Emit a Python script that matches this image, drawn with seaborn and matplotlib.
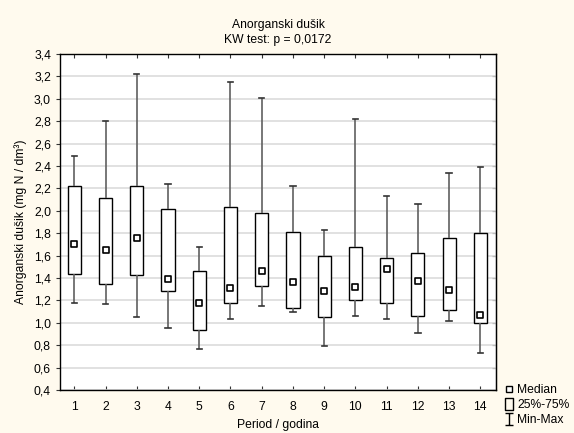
import numpy as np
import pandas as pd
import matplotlib
matplotlib.use("Agg")
import matplotlib.pyplot as plt
import seaborn as sns
from matplotlib.lines import Line2D
from matplotlib.path import Path
from matplotlib.ticker import FuncFormatter, MultipleLocator

# Per-period summary values (mg N / dm3)
periods = [str(i) for i in range(1, 15)]
mins = [1.18, 1.17, 1.05, 0.95, 0.77, 1.03, 1.15, 1.10, 0.79, 1.06, 1.03, 0.91, 1.02, 0.73]
q1s = [1.44, 1.35, 1.43, 1.28, 0.94, 1.18, 1.33, 1.13, 1.05, 1.20, 1.18, 1.06, 1.11, 1.00]
medians = [1.70, 1.65, 1.76, 1.39, 1.18, 1.31, 1.46, 1.36, 1.28, 1.32, 1.48, 1.37, 1.29, 1.07]
q3s = [2.22, 2.11, 2.22, 2.02, 1.46, 2.03, 1.98, 1.81, 1.60, 1.68, 1.58, 1.62, 1.76, 1.80]
maxs = [2.49, 2.80, 3.22, 2.24, 1.68, 3.15, 3.01, 2.22, 1.83, 2.82, 2.13, 2.06, 2.34, 2.39]

title = "Anorganski dušik\nKW test: p = 0,0172"
xlabel = "Period / godina"
ylabel = "Anorganski dušik (mg N / dm³)"

# five points per period -> quartiles land exactly on the read values
long = pd.DataFrame({
    "period": np.repeat(periods, 5),
    "value": np.column_stack([mins, q1s, medians, q3s, maxs]).ravel(),
})
med_df = pd.DataFrame({"period": periods, "value": medians})

plt.rcParams["font.family"] = ["Liberation Sans", "DejaVu Sans"]
fs = 8.7

bg = "#fffaee"
fig = plt.figure(figsize=(5.74, 4.33), dpi=100, facecolor=bg)
ax = fig.add_axes([0.1045, 0.0993, 0.7595, 0.776])
ax.set_facecolor("white")

ax.yaxis.grid(True, color="#dcdcdc", lw=1.2, zorder=0)
ax.set_axisbelow(True)

sns.boxplot(data=long, x="period", y="value", order=periods, whis=(0, 100),
            width=0.42, color="white", linecolor="black", linewidth=1.0,
            showfliers=False,
            medianprops=dict(visible=False),
            whiskerprops=dict(color="#606060", lw=1.2),
            capprops=dict(color="#333333", lw=1.2),
            ax=ax)

# shorten caps to match the narrow min-max ticks
for line in ax.lines:
    xd = np.asarray(line.get_xdata(), dtype=float)
    yd = np.asarray(line.get_ydata(), dtype=float)
    if len(xd) == 2 and yd[0] == yd[1] and line.get_color() == "#333333":
        c = xd.mean()
        line.set_xdata([c - 0.085, c + 0.085])

sns.stripplot(data=med_df, x="period", y="value", order=periods, jitter=False,
              marker="s", size=5, color="white", edgecolor="black",
              linewidth=1.2, zorder=5, ax=ax)

ax.set_xlim(-0.46, 13.5)
ax.set_ylim(0.4, 3.4)
ax.yaxis.set_major_locator(MultipleLocator(0.2))
ax.yaxis.set_major_formatter(FuncFormatter(lambda v, p: f"{v:.1f}".replace(".", ",")))

for s in ax.spines.values():
    s.set_color("black")
    s.set_linewidth(1.0)

ax.tick_params(axis="y", left=True, right=False, direction="out", length=3,
               labelsize=fs, color="#333333")
ax.tick_params(axis="x", bottom=True, top=True, direction="in", length=3,
               labelsize=fs, color="#333333", pad=8)
sec = ax.secondary_yaxis("right")
sec.yaxis.set_major_locator(MultipleLocator(0.2))
sec.tick_params(direction="in", length=3, labelright=False, color="#333333")

ax.set_title(title, fontsize=fs, pad=8, linespacing=1.3)
ax.set_xlabel(xlabel, fontsize=fs, labelpad=4)
ax.set_ylabel(ylabel, fontsize=fs, labelpad=5)

# legend glyphs
rect = Path([(-0.33, -0.5), (0.33, -0.5), (0.33, 0.5), (-0.33, 0.5), (-0.33, -0.5)],
            [Path.MOVETO, Path.LINETO, Path.LINETO, Path.LINETO, Path.CLOSEPOLY])
ibar = Path([(-0.35, 0.5), (0.35, 0.5), (0, 0.5), (0, -0.5), (-0.35, -0.5), (0.35, -0.5)],
            [Path.MOVETO, Path.LINETO, Path.MOVETO, Path.LINETO, Path.MOVETO, Path.LINETO])
handles = [
    Line2D([], [], ls="none", marker="s", ms=4, mfc="white", mec="black", mew=1.0),
    Line2D([], [], ls="none", marker=rect, ms=9, mfc="none", mec="black", mew=1.0),
    Line2D([], [], ls="none", marker=ibar, ms=8.5, mfc="none", mec="black", mew=1.0),
]
fig.legend(handles, ["Median", "25%-75%", "Min-Max"], loc="lower left",
           bbox_to_anchor=(0.868, 0.002), frameon=False, fontsize=fs,
           handlelength=0.8, handletextpad=0.25, labelspacing=0.25,
           borderpad=0.0)

fig.savefig("out.png", dpi=100, facecolor=bg)
